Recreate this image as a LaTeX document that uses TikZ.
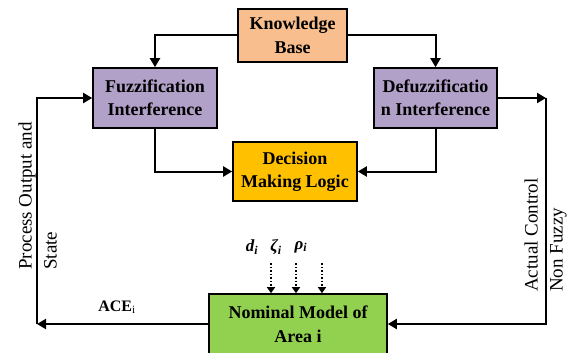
\documentclass[tikz,border=0pt]{standalone}
\usepackage{fontspec}
\setmainfont{Liberation Serif}
\usepackage{tikz}
\usetikzlibrary{arrows.meta}
\usetikzlibrary{calc}
\usepackage{xcolor}

\definecolor{kbOrange}{RGB}{248,190,142}
\definecolor{fzPurple}{RGB}{177,160,199}
\definecolor{dmGold}{RGB}{255,192,0}
\definecolor{nmGreen}{RGB}{146,208,80}

\begin{document}
\begin{tikzpicture}[x=1pt, y=-1pt]
        % ================= styles =================
        \tikzset{
            % block: filled box with black frame
            block/.style={draw=black, line width=1.6pt, align=center, inner sep=0pt,
                          font=\fontsize{18}{23.5}\selectfont\bfseries},
            % main signal line
            sig/.style={line width=2pt, -{Triangle[length=9pt, width=10pt]}},
            % disturbance inputs
            dist/.style={line width=1.5pt, dotted, -{Triangle[length=6pt, width=8pt]}},
            % disturbance names
            distlab/.style={font=\fontsize{17}{17}\selectfont\bfseries\itshape},
            % side labels
            sidelab/.style={rotate=90, align=left, anchor=south west, inner sep=0pt,
                            font=\fontsize{19}{25}\selectfont}
        }
        \useasboundingbox (0,0) rectangle (571,353);

        % ================= blocks =================
        \node[block, fill=kbOrange, minimum width=109pt, minimum height=53pt] (kb) at (292.5,35.5) {Knowledge\\Base};
        \node[block, fill=fzPurple, minimum width=124pt, minimum height=60pt] (fuzz) at (155,98) {Fuzzification\\Interference};
        \node[block, fill=fzPurple, minimum width=123pt, minimum height=60pt] (defuzz) at (435.5,98) {Defuzzificatio\\n Interference};
        \node[block, fill=dmGold, minimum width=124pt, minimum height=59pt] (dml) at (295,171.5) {Decision\\Making Logic};
        \node[block, fill=nmGreen, minimum width=178pt, minimum height=60pt] (nom) at (298,324) {Nominal Model of\\Area i};

        % ================= fuzzy loop =================
        \draw[sig] (kb.west) -| (fuzz.north);
        \draw[sig] (kb.east) -| (defuzz.north);
        \draw[sig] (fuzz.south) |- (dml.west);
        \draw[sig] (defuzz.south) |- (dml.east);

        % ================= plant feedback =================
        \coordinate (fb) at (37,324);
        \coordinate (uc) at (546,98);
        \draw[sig] (nom.west) -- (fb);
        \draw[sig] (fb) |- (fuzz.west);
        \draw[sig] (defuzz.east) -- (uc);
        \draw[sig] (uc) |- (nom.east);

        % disturbances d, zeta, rho
        \foreach \x [count=\i] in {271,296,322} {
            \coordinate (w\i) at (\x,263);
            \draw[dist] (w\i) -- (w\i |- nom.north);
        }
        \node[distlab] (ld) at (252,247) {d\textsubscript{i}};
        \node[distlab] (lz) at (276,247) {ζ\textsubscript{i}};
        \node[distlab] (lr) at (301,247) {ρ\textsubscript{i}};

        % ================= labels =================
        \node[font=\fontsize{16}{16}\selectfont\bfseries] (ace) at (117,307) {ACE\textsubscript{\mdseries i}};
        \node[sidelab] (pout) at (57,270) {Process Output and\\State};
        \node[sidelab] (uact) at (567,292) {Actual Control\\Non Fuzzy};

    \end{tikzpicture}
\end{document}
